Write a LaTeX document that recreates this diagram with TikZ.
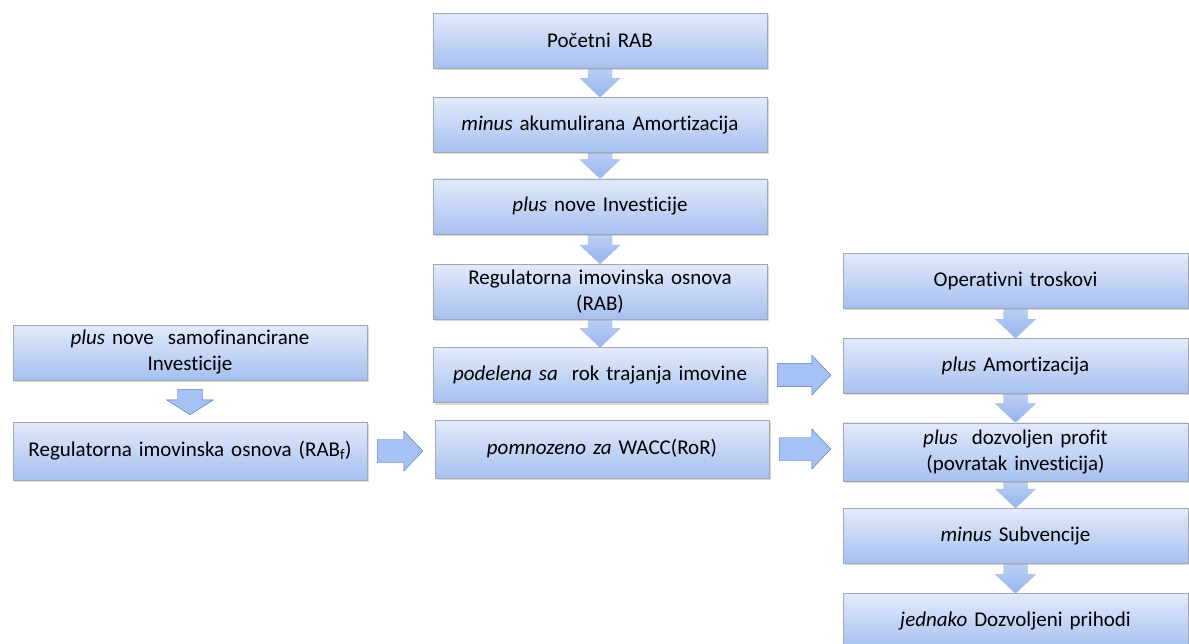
\documentclass[tikz,border=0pt]{standalone}
\usepackage{fontspec}
\setmainfont{Carlito}[Ligatures=NoCommon]
\usetikzlibrary{positioning,calc,shadows,backgrounds}
\definecolor{RabTop}{HTML}{E3EAFB}
\definecolor{RabBot}{HTML}{A6C0F0}
\definecolor{RabLine}{HTML}{A2A8B2}
\definecolor{ArrTop}{HTML}{C6D7F8}
\definecolor{ArrBot}{HTML}{96B4EC}
\definecolor{ArrFlat}{HTML}{A6C1F3}
\definecolor{ArrLine}{HTML}{4C70B0}
\definecolor{ArrSoft}{HTML}{A9BAD8}
\tikzset{
  box/.style={draw=RabLine,top color=RabTop,bottom color=RabBot,text width=#1,
    inner xsep=0pt,minimum height=55pt,align=center,
    font=\fontsize{21}{26}\selectfont,
    drop shadow={opacity=.3,shadow xshift=2pt,shadow yshift=-2pt}},
  box/.default=334pt,
  tallbox/.style={box=#1,minimum height=58pt},
  tallbox/.default=334pt,
  % fat arrow going down, tail tucked into the upper box
  stepdown/.style={draw=ArrSoft,top color=ArrTop,bottom color=ArrBot,
    to path={let \p1=(\tikztostart),\p2=(\tikztotarget) in
      ({\x1-12pt},{\y1+8pt}) -- ({\x1+12pt},{\y1+8pt}) -- ({\x1+12pt},{\y2+19pt})
      -- ({\x1+20pt},{\y2+19pt}) -- (\x1,\y2) -- ({\x1-20pt},{\y2+19pt})
      -- ({\x1-12pt},{\y2+19pt}) -- cycle}},
  % free standing fat arrow going down
  gapdown/.style={draw=ArrLine,fill=ArrFlat,
    to path={let \p1=(\tikztostart),\p2=(\tikztotarget) in
      ({\x1-12.5pt},{\y1-9pt}) -- ({\x1+12.5pt},{\y1-9pt}) -- ({\x1+12.5pt},{\y2+22pt})
      -- ({\x1+23.5pt},{\y2+22pt}) -- (\x1,{\y2+7pt}) -- ({\x1-23.5pt},{\y2+22pt})
      -- ({\x1-12.5pt},{\y2+22pt}) -- cycle}},
  % fat arrow going right
  stepright/.style={draw=ArrLine,fill=ArrFlat,
    to path={let \p1=(\tikztostart),\p2=(\tikztotarget) in
      ({\x1+10pt},{\y1+11.5pt}) -- ({\x2-31pt},{\y1+11.5pt}) -- ({\x2-31pt},{\y1+20pt})
      -- ({\x2-12pt},\y1) -- ({\x2-31pt},{\y1-20pt}) -- ({\x2-31pt},{\y1-11.5pt})
      -- ({\x1+10pt},{\y1-11.5pt}) -- cycle}}
}
\begin{document}
\begin{tikzpicture}[x=1pt,y=-1pt]
  \useasboundingbox (0,0) rectangle (1189,643);
  % middle column
  \node[box] (start) at (600,40.5) {Početni RAB};
  \node[box,below=29pt of start] (amort) {\textit{minus} akumulirana Amortizacija};
  \node[box,below=26pt of amort] (invest) {\textit{plus} nove Investicije};
  \node[box,below=30pt of invest] (rab) {Regulatorna imovinska osnova\\(RAB)};
  \node[box,below=28pt of rab] (life) {\textit{podelena sa}\ \ rok trajanja imovine};
  \node[tallbox] (wacc) at (602,449) {\textit{pomnozeno za} WACC(RoR)};
  % left column
  \node[box=354pt] (selfinv) at (190,352.5) {\textit{plus} nove\ \ samofinancirane\\Investicije};
  \node[tallbox=354pt] (rabf) at (190,451) {Regulatorna imovinska osnova (RAB\textsubscript{f})};
  % right column
  \node[box=345pt] (opex) at (1015.5,280.5) {Operativni troskovi};
  \node[box=345pt,below=30pt of opex] (depr) {\textit{plus} Amortizacija};
  \node[tallbox=345pt,below=29pt of depr] (profit) {\textit{plus}\ \ dozvoljen profit\\(povratak investicija)};
  \node[box=345pt,below=27pt of profit] (subs) {\textit{minus} Subvencije};
  \node[box=345pt,below=30pt of subs] (income) {\textit{jednako} Dozvoljeni prihodi};
  \begin{scope}[on background layer]
    \draw[stepdown] (start.south) to (amort.north);
    \draw[stepdown] (amort.south) to (invest.north);
    \draw[stepdown] (invest.south) to (rab.north);
    \draw[stepdown] (rab.south) to (life.north);
    \draw[stepdown] (opex.south) to (depr.north);
    \draw[stepdown] (depr.south) to (profit.north);
    \draw[stepdown] (profit.south) to (subs.north);
    \draw[stepdown] (subs.south) to (income.north);
  \end{scope}
  \draw[gapdown] (selfinv.south) to (rabf.north);
  \draw[stepright] (rabf.east) to (wacc.west);
  \draw[stepright] (life.east) to (depr.west);
  \draw[stepright] (wacc.east) to (profit.west);
\end{tikzpicture}
\end{document}
